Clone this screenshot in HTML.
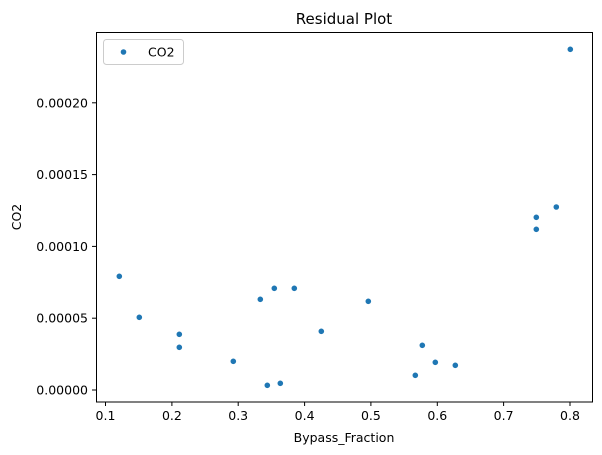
<!DOCTYPE html>
<html><head><style>body{margin:0;background:#fff}svg{display:block}text{font-family:"DejaVu Sans","Liberation Sans",sans-serif;font-size:12.5px;fill:#000}</style></head>
<body>
<svg width="602" height="455" xmlns="http://www.w3.org/2000/svg">
<rect width="602" height="455" fill="#fff"/>
<text x="344" y="24" text-anchor="middle" style="font-size:15px">Residual Plot</text>
<g fill="#1f77b4">
<circle cx="119.3" cy="276.3" r="2.8"/><circle cx="139.3" cy="317.3" r="2.8"/>
<circle cx="179.3" cy="334.3" r="2.8"/><circle cx="179.3" cy="347.3" r="2.8"/>
<circle cx="233.3" cy="361.3" r="2.8"/><circle cx="260.3" cy="299.3" r="2.8"/>
<circle cx="267.3" cy="385.3" r="2.8"/><circle cx="274.3" cy="288.3" r="2.8"/>
<circle cx="280.3" cy="383.3" r="2.8"/><circle cx="294.3" cy="288.3" r="2.8"/>
<circle cx="321.3" cy="331.3" r="2.8"/><circle cx="368.3" cy="301.3" r="2.8"/>
<circle cx="415.3" cy="375.3" r="2.8"/><circle cx="422.3" cy="345.3" r="2.8"/>
<circle cx="435.3" cy="362.3" r="2.8"/><circle cx="455.3" cy="365.3" r="2.8"/>
<circle cx="536.3" cy="217.3" r="2.8"/><circle cx="536.3" cy="229.3" r="2.8"/>
<circle cx="556.3" cy="207" r="2.8"/><circle cx="570.3" cy="49.3" r="2.8"/>
</g>
<rect x="96.5" y="32.5" width="496" height="369.5" fill="none" stroke="#000" stroke-width="1"/>
<g stroke="#000">
<line x1="105.5" y1="402" x2="105.5" y2="406"/><line x1="171.9" y1="402" x2="171.9" y2="406"/>
<line x1="238.2" y1="402" x2="238.2" y2="406"/><line x1="304.6" y1="402" x2="304.6" y2="406"/>
<line x1="370.9" y1="402" x2="370.9" y2="406"/><line x1="437.3" y1="402" x2="437.3" y2="406"/>
<line x1="503.6" y1="402" x2="503.6" y2="406"/><line x1="570" y1="402" x2="570" y2="406"/>
<line x1="92" y1="390" x2="96.5" y2="390"/><line x1="92" y1="318.2" x2="96.5" y2="318.2"/>
<line x1="92" y1="246.4" x2="96.5" y2="246.4"/><line x1="92" y1="174.6" x2="96.5" y2="174.6"/>
<line x1="92" y1="102.8" x2="96.5" y2="102.8"/>
</g>
<g text-anchor="middle">
<text x="105.5" y="420">0.1</text><text x="171.9" y="420">0.2</text><text x="238.2" y="420">0.3</text>
<text x="304.6" y="420">0.4</text><text x="370.9" y="420">0.5</text><text x="437.3" y="420">0.6</text>
<text x="503.6" y="420">0.7</text><text x="570" y="420">0.8</text>
<text x="344" y="442">Bypass_Fraction</text>
</g>
<g text-anchor="end">
<text x="88" y="394.5">0.00000</text><text x="88" y="322.7">0.00005</text><text x="88" y="250.9">0.00010</text>
<text x="88" y="179.1">0.00015</text><text x="88" y="107.3">0.00020</text>
</g>
<text transform="translate(21,217) rotate(-90)" text-anchor="middle">CO2</text>
<rect x="103.5" y="39.5" width="80" height="25" rx="3" fill="#fff" stroke="#ccc"/>
<circle cx="123.5" cy="52" r="2.8" fill="#1f77b4"/>
<text x="148" y="56.5">CO2</text>
</svg>
</body></html>
